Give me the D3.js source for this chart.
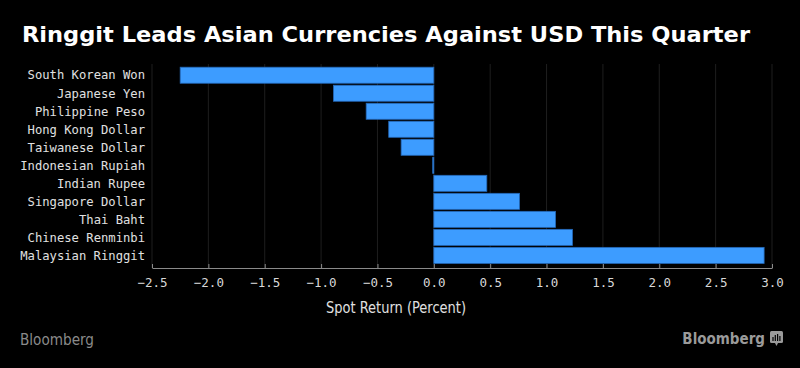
<!DOCTYPE html>
<html><head><meta charset="utf-8">
<script src="https://cdn.jsdelivr.net/npm/d3@7"></script>
<style>body{margin:0;background:#000;}svg{display:block;}</style>
</head><body>
<svg id="c" width="800" height="368"></svg>
<script>
const categories = ["South Korean Won","Japanese Yen","Philippine Peso","Hong Kong Dollar","Taiwanese Dollar","Indonesian Rupiah","Indian Rupee","Singapore Dollar","Thai Baht","Chinese Renminbi","Malaysian Ringgit"];
const values = [-2.25,-0.89,-0.60,-0.40,-0.29,-0.01,0.47,0.76,1.08,1.23,2.93];
const tickValues = [-2.5,-2.0,-1.5,-1.0,-0.5,0.0,0.5,1.0,1.5,2.0,2.5,3.0];
const title = "Ringgit Leads Asian Currencies Against USD This Quarter";
const xTitle = "Spot Return (Percent)";
const source = "Bloomberg";

(function(){
const svg = d3.select("#c");
svg.append("rect").attr("width",800).attr("height",368).attr("fill","#000");

const plotLeft = 152, plotRight = 772, plotTop = 64, axisY = 268;
const x = d3.scaleLinear().domain([-2.5,3.0]).range([plotLeft,plotRight]);
const y = d3.scaleBand().domain(categories).range([66.3,264.3]).paddingInner(0.11).paddingOuter(0.05);

// gridlines
svg.append("g").selectAll("line").data(tickValues).join("line")
  .attr("x1",d=>x(d)).attr("x2",d=>x(d)).attr("y1",plotTop).attr("y2",axisY)
  .attr("stroke","#1e1e1e").attr("stroke-width",1);

// bars
svg.append("g").selectAll("rect").data(values).join("rect")
  .attr("x",d=>x(Math.min(0,d))).attr("width",d=>Math.max(1,Math.abs(x(d)-x(0))))
  .attr("y",(d,i)=>y(categories[i])).attr("height",y.bandwidth())
  .attr("fill","#3d9cff").attr("stroke","#2468b8").attr("stroke-width",0.8);

// axis
const ax = svg.append("g").attr("transform",`translate(0,${axisY})`)
  .call(d3.axisBottom(x).tickValues(tickValues).tickFormat(d3.format(".1f")).tickSizeInner(-4).tickSizeOuter(0).tickPadding(10));
ax.select(".domain").attr("stroke","#8a8a8a");
ax.selectAll(".tick line").attr("stroke","#8a8a8a");
ax.selectAll(".tick text").attr("fill","#d8d8d8").attr("font-family","'DejaVu Sans Mono', monospace").attr("font-size",12.5);

// category labels
svg.append("g").selectAll("text").data(categories).join("text")
  .attr("x",145).attr("y",d=>y(d)+y.bandwidth()/2).attr("dy","0.35em")
  .attr("text-anchor","end").attr("fill","#e0e0e0")
  .attr("font-family","'DejaVu Sans Mono', monospace").attr("font-size",12.2)
  .text(d=>d);

// title
svg.append("text").attr("x",22).attr("y",42).attr("fill","#fff")
  .attr("font-family","'DejaVu Sans',sans-serif").attr("font-weight","bold")
  .attr("font-size",21).attr("textLength",728).attr("lengthAdjust","spacingAndGlyphs").text(title);

// x title
svg.append("text").attr("x",396).attr("y",313).attr("text-anchor","middle").attr("fill","#e0e0e0")
  .attr("font-family","'DejaVu Sans Condensed','DejaVu Sans',sans-serif").attr("font-size",15)
  .attr("textLength",140).attr("lengthAdjust","spacingAndGlyphs").text(xTitle);

// footer
svg.append("text").attr("x",20).attr("y",345).attr("fill","#8a8a8a")
  .attr("font-family","'DejaVu Sans Condensed','DejaVu Sans',sans-serif").attr("font-size",15)
  .attr("textLength",74).attr("lengthAdjust","spacingAndGlyphs").text(source);
svg.append("text").attr("x",765).attr("y",344).attr("text-anchor","end").attr("fill","#9a9a9a")
  .attr("font-family","'DejaVu Sans Condensed','DejaVu Sans',sans-serif").attr("font-weight","bold").attr("font-size",15).text(source);
const ic = svg.append("g").attr("transform","translate(770,331)");
ic.append("rect").attr("width",13).attr("height",12).attr("rx",1.5).attr("fill","#9a9a9a");
ic.append("path").attr("d","M5,12 L6.5,15 L8,12 Z").attr("fill","#9a9a9a");
[[3,6],[5.3,4],[7.6,3],[9.9,5]].forEach(([bx,by])=>ic.append("rect").attr("x",bx-0.6).attr("y",by).attr("width",1.2).attr("height",10-by).attr("fill","#000"));
})();
</script>
</body></html>
